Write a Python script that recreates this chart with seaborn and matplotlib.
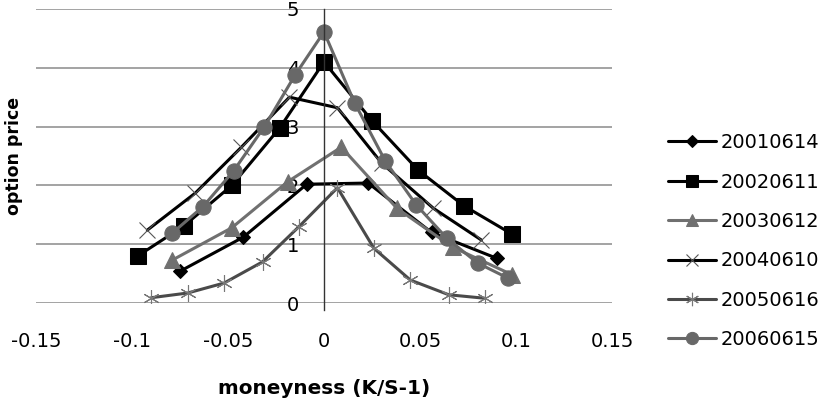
import matplotlib
matplotlib.use('Agg')
import matplotlib.pyplot as plt
import seaborn as sns

# --- data ---
x_20010614 = [-0.075, -0.042, -0.009, 0.023, 0.056, 0.090]
y_20010614 = [0.54, 1.12, 2.02, 2.04, 1.20, 0.76]

x_20020611 = [-0.097, -0.073, -0.048, -0.023, 0.000, 0.025, 0.049, 0.073, 0.098]
y_20020611 = [0.80, 1.31, 2.00, 2.98, 4.10, 3.10, 2.26, 1.65, 1.17]

x_20030612 = [-0.079, -0.048, -0.019, 0.009, 0.038, 0.067, 0.098]
y_20030612 = [0.73, 1.28, 2.06, 2.65, 1.61, 0.95, 0.48]

x_20040610 = [-0.092, -0.067, -0.043, -0.018, 0.007, 0.030, 0.057, 0.082]
y_20040610 = [1.24, 1.87, 2.65, 3.50, 3.32, 2.38, 1.61, 1.07]

x_20050616 = [-0.090, -0.071, -0.052, -0.032, -0.013, 0.007, 0.026, 0.045, 0.065, 0.084]
y_20050616 = [0.09, 0.17, 0.34, 0.70, 1.30, 1.96, 0.93, 0.39, 0.14, 0.08]

x_20060615 = [-0.079, -0.063, -0.047, -0.031, -0.015, 0.000, 0.016, 0.032, 0.048, 0.064, 0.080, 0.096]
y_20060615 = [1.19, 1.64, 2.25, 3.00, 3.88, 4.61, 3.40, 2.41, 1.67, 1.10, 0.68, 0.42]

x_ticks = [-0.15, -0.1, -0.05, 0, 0.05, 0.1, 0.15]
x_tick_labels = ["-0.15", "-0.1", "-0.05", "0", "0.05", "0.1", "0.15"]
y_ticks = [0, 1, 2, 3, 4, 5]

# --- style ---
sns.set_style("white")
plt.rcParams['font.family'] = ['DejaVu Sans']
plt.rcParams['font.size'] = 14
plt.rcParams['text.color'] = 'black'
plt.rcParams['axes.labelcolor'] = 'black'
plt.rcParams['xtick.labelcolor'] = 'black'
plt.rcParams['ytick.labelcolor'] = 'black'

fig = plt.figure(figsize=(8.33, 4.07), dpi=100)
ax = fig.add_axes([0.0432, 0.2555, 0.6915, 0.7225])

series = [
    ("20010614", x_20010614, y_20010614, dict(color="black", marker="D", markersize=7.5,
                                              markeredgecolor="black")),
    ("20020611", x_20020611, y_20020611, dict(color="black", marker="s", markersize=11.5,
                                              markeredgecolor="black")),
    ("20030612", x_20030612, y_20030612, dict(color="#707070", marker="^", markersize=11,
                                              markeredgecolor="#707070")),
    ("20040610", x_20040610, y_20040610, dict(color="black", marker="x", markersize=11,
                                              markeredgewidth=0.8, markeredgecolor="#555555")),
    ("20050616", x_20050616, y_20050616, dict(color="#4a4a4a", marker=(6, 2, 0), markersize=12,
                                              markeredgewidth=0.8, markeredgecolor="#777777")),
    ("20060615", x_20060615, y_20060615, dict(color="#686868", marker="o", markersize=11,
                                              markeredgecolor="#686868")),
]

for name, xs, ys, kw in series:
    sns.lineplot(x=xs, y=ys, ax=ax, label=name, sort=False, lw=2.2, **kw)

ax.set_xlim(-0.15, 0.15)
ax.set_ylim(0, 5)

# excel-like axes: horizontal gridlines, vertical axis through x=0
for s in ["top", "right", "bottom"]:
    ax.spines[s].set_visible(False)
ax.spines["left"].set_position(("data", 0))
ax.spines["left"].set_color("#333333")
ax.spines["left"].set_linewidth(1.0)
ax.spines["left"].set_bounds(-0.12, 5)
ax.set_zorder(1)
for yv in y_ticks:
    ax.axhline(yv, color="#8a8a8a", lw=1.1, zorder=0)

ax.set_xticks(x_ticks)
ax.set_xticklabels(x_tick_labels)
ax.tick_params(axis="x", length=6, width=1, color="#8a8a8a", pad=15, labelsize=14)
ax.set_yticks(y_ticks)
ax.tick_params(axis="y", length=0, pad=18, labelsize=14)

ax.set_xlabel("moneyness (K/S-1)", fontweight="bold", fontsize=14.4, labelpad=20)
ax.set_ylabel("option price", fontweight="bold", fontsize=12.5)
ax.yaxis.set_label_coords(-0.0226, 0.5)

ax.legend_.remove()
handles, labels = ax.get_legend_handles_labels()
leg = fig.legend(handles, labels, loc="upper left", bbox_to_anchor=(0.8014, 0.673),
                 frameon=False, fontsize=14, handlelength=2.5, handletextpad=0.25,
                 labelspacing=1.05, borderaxespad=0, borderpad=0)
for h in leg.legend_handles:
    h.set_markersize(h.get_markersize() * 0.8)

fig.savefig("out.png", dpi=100)
